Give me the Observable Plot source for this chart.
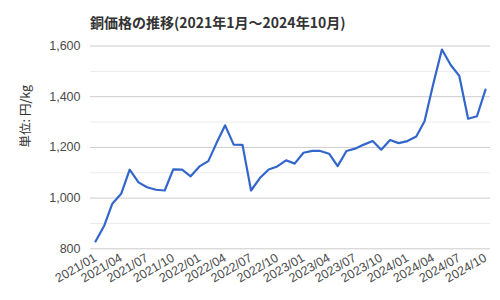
<!DOCTYPE html>
<html>
<head>
<meta charset="utf-8">
<script src="https://cdn.jsdelivr.net/npm/d3@7"></script>
<script src="https://cdn.jsdelivr.net/npm/@observablehq/plot@0.6"></script>
<style>
  html, body { margin: 0; padding: 0; background: #fff; }
  #wrap { width: 500px; height: 300px; overflow: hidden; }
  #title { height: 34px; box-sizing: border-box; padding: 13px 0 0 90px; font: bold 14px/18px "Noto Sans CJK JP", "Liberation Sans", sans-serif; color: #333; white-space: nowrap; }
</style>
</head>
<body>
<div id="wrap">
  <div id="title">銅価格の推移(2021年1月～2024年10月)</div>
  <div id="chart"></div>
</div>
<script>
const months = [
  "2021/01","2021/02","2021/03","2021/04","2021/05","2021/06","2021/07","2021/08","2021/09","2021/10","2021/11","2021/12",
  "2022/01","2022/02","2022/03","2022/04","2022/05","2022/06","2022/07","2022/08","2022/09","2022/10","2022/11","2022/12",
  "2023/01","2023/02","2023/03","2023/04","2023/05","2023/06","2023/07","2023/08","2023/09","2023/10","2023/11","2023/12",
  "2024/01","2024/02","2024/03","2024/04","2024/05","2024/06","2024/07","2024/08","2024/09","2024/10"
];
const prices = [
  829, 892, 978, 1017, 1112, 1062, 1043, 1033, 1030, 1113, 1112, 1086,
  1125, 1146, 1215, 1287, 1211, 1210, 1030, 1079, 1113, 1125, 1149, 1136,
  1179, 1186, 1186, 1175, 1126, 1186, 1195, 1211, 1225, 1191, 1229, 1217,
  1225, 1243, 1303, 1452, 1586, 1525, 1482, 1313, 1323, 1428
];
const xTickLabels = ["2021/01","2021/04","2021/07","2021/10","2022/01","2022/04","2022/07","2022/10","2023/01","2023/04","2023/07","2023/10","2024/01","2024/04","2024/07","2024/10"];
const yMajorTicks = [800, 1000, 1200, 1400, 1600];
const yMinorTicks = [900, 1100, 1300, 1500];
const yLabel = "単位: 円/kg";

const parse = d3.utcParse("%Y/%m");
const data = months.map((m, i) => ({date: parse(m), value: prices[i]}));
const xTicks = xTickLabels.map(parse);
const fmt = d3.utcFormat("%Y/%m");

const chart = Plot.plot({
  width: 500,
  height: 266,
  marginTop: 11.5,
  marginBottom: 51.7,
  marginLeft: 90,
  marginRight: 10,
  style: {fontFamily: "'Liberation Sans', Arial, sans-serif", fontSize: "12.5px", color: "#444", background: "#fff"},
  x: {type: "utc", domain: [parse("2021/01"), parse("2024/10")], inset: 5},
  y: {domain: [800, 1600]},
  marks: [
    Plot.ruleY(yMinorTicks, {stroke: "#ebebeb", strokeWidth: 1}),
    Plot.ruleY(yMajorTicks, {stroke: "#cccccc", strokeWidth: 1}),
    Plot.axisY(yMajorTicks, {tickSize: 0, tickPadding: 10, tickFormat: d3.format(","), label: null, fill: "#4a4a4a", fontSize: 12.5}),
    Plot.axisX(xTicks, {tickSize: 0, tickPadding: 8, tickRotate: -30, tickFormat: fmt, label: null, fill: "#4a4a4a", fontSize: 12.5}),
    Plot.text([yLabel], {frameAnchor: "left", dx: -65, rotate: -90, fontSize: 12.5, fill: "#333", fontFamily: "'Noto Sans CJK JP', sans-serif"}),
    Plot.lineY(data, {x: "date", y: "value", stroke: "#3366cc", strokeWidth: 2.2})
  ]
});
document.getElementById("chart").appendChild(chart);
</script>
</body>
</html>
